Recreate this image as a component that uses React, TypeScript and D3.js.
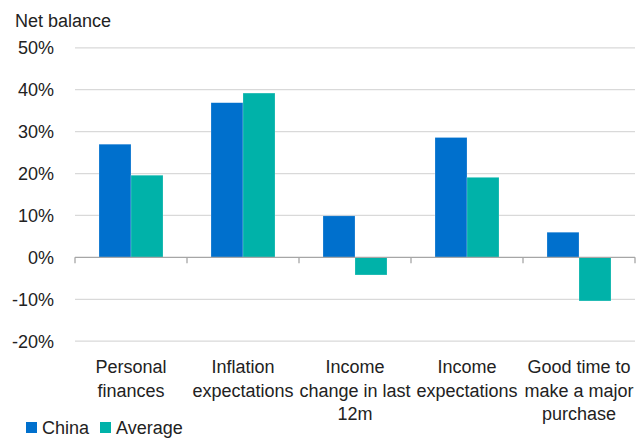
import React from "react";
import * as d3 from "d3";

const categories = [
  ["Personal", "finances"],
  ["Inflation", "expectations"],
  ["Income", "change in last", "12m"],
  ["Income", "expectations"],
  ["Good time to", "make a major", "purchase"],
];
const seriesNames = ["China", "Average"];
const china = [27.0, 36.9, 9.9, 28.6, 6.0];
const average = [19.6, 39.2, -4.2, 19.1, -10.4];
const yTicks = [-20, -10, 0, 10, 20, 30, 40, 50];
const colors = ["#0070CD", "#00B2A9"];

const W = 636;
const H = 438;
const left = 75;
const right = 635;
const top = 47.8;
const bottom = 341.2;

export default function App() {
  const x = d3
    .scaleBand<number>()
    .domain(d3.range(categories.length))
    .range([left, right])
    .paddingInner(0)
    .paddingOuter(0);
  const y = d3.scaleLinear().domain([-20, 50]).range([bottom, top]);
  const inner = d3
    .scaleBand<number>()
    .domain([0, 1])
    .range([24, x.bandwidth() - 24]);
  const series = [china, average];
  const font = "'Liberation Sans', Arial, Helvetica, sans-serif";
  const fmt = (v: number) => `${v}%`;

  return (
    <div style={{ position: "absolute", left: 0, top: 0 }}>
      <svg width={W} height={H} style={{ display: "block" }} fontFamily={font}>
        <rect width={W} height={H} fill="#fff" />
        <text x={15} y={27} fontSize={18} fill="#222">
          Net balance
        </text>
        {yTicks.map((t) => (
          <g key={t}>
            {t !== 0 && (
              <line x1={left} x2={right} y1={y(t)} y2={y(t)} stroke="#d9d9d9" strokeWidth={1.3} />
            )}
            <text x={54} y={y(t)} dy="0.35em" textAnchor="end" fontSize={18} fill="#222">
              {fmt(t)}
            </text>
          </g>
        ))}
        {series.map((vals, si) =>
          vals.map((v, i) => {
            const x0 = (x(i) as number) + (inner(si) as number);
            const y0 = Math.min(y(v), y(0));
            const h = Math.abs(y(v) - y(0));
            return (
              <rect
                key={`${si}-${i}`}
                x={x0}
                y={y0}
                width={inner.bandwidth()}
                height={h}
                fill={colors[si]}
                stroke="#fff"
                strokeOpacity={0.35}
                strokeWidth={0.6}
              />
            );
          })
        )}
        <line x1={left} x2={right} y1={y(0)} y2={y(0)} stroke="#a6a6a6" strokeWidth={1.3} />
        {d3.range(categories.length + 1).map((i) => {
          const xx = i < categories.length ? (x(i) as number) : right;
          return <line key={i} x1={xx} x2={xx} y1={y(0)} y2={y(0) + 6} stroke="#a6a6a6" strokeWidth={1.3} />;
        })}
        {categories.map((lines, i) => (
          <text
            key={i}
            x={(x(i) as number) + x.bandwidth() / 2}
            y={373}
            textAnchor="middle"
            fontSize={18}
            fill="#222"
          >
            {lines.map((l, j) => (
              <tspan key={j} x={(x(i) as number) + x.bandwidth() / 2} dy={j === 0 ? 0 : 23.5}>
                {l}
              </tspan>
            ))}
          </text>
        ))}
        {seriesNames.map((n, i) => {
          const lx = i === 0 ? 26 : 100;
          return (
            <g key={n}>
              <rect x={lx} y={422} width={11} height={11} fill={colors[i]} />
              <text x={lx + 16} y={434} fontSize={18} fill="#222">
                {n}
              </text>
            </g>
          );
        })}
      </svg>
    </div>
  );
}
